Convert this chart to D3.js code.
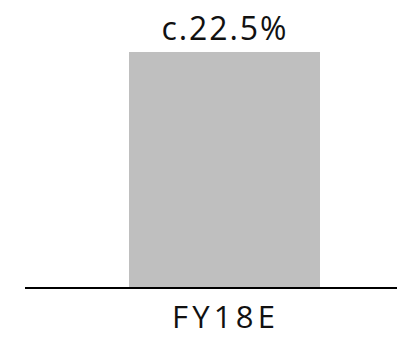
<!DOCTYPE html>
<html><head><meta charset="utf-8">
<script src="https://cdn.jsdelivr.net/npm/d3@7"></script>
<style>html,body{margin:0;padding:0;background:#fff;}svg{display:block;}</style>
</head><body>
<svg id="c" width="397" height="337"></svg>
<script>
const categories = ["FY18E"];
const values = [22.5];
const valueLabels = ["c.22.5%"];

const svg = d3.select("#c");
const baseY = 288;
const x = d3.scaleBand().domain(categories).range([129, 320]).padding(0);
const y = d3.scaleLinear().domain([0, 22.5]).range([baseY, 52]);

svg.selectAll("rect.bar").data(values).join("rect").attr("class","bar")
  .attr("x", (d,i)=>x(categories[i])).attr("width", x.bandwidth())
  .attr("y", d=>y(d)).attr("height", d=>baseY-y(d)).attr("fill","#bfbfbf");

svg.append("line").attr("x1",25).attr("x2",397).attr("y1",baseY).attr("y2",baseY)
  .attr("stroke","#000").attr("stroke-width",2);

const font = "'Open Sans', sans-serif";
svg.selectAll("text.val").data(values).join("text").attr("class","val")
  .attr("x", (d,i)=>x(categories[i]) + x.bandwidth()/2 - 0.5).attr("y", d=>y(d)-12)
  .attr("text-anchor","middle")
  .attr("font-family",font).attr("font-size",32).attr("fill","#111")
  .attr("textLength",125).attr("lengthAdjust","spacing")
  .text((d,i)=>valueLabels[i]);

svg.selectAll("text.cat").data(categories).join("text").attr("class","cat")
  .attr("x", d=>x(d) + x.bandwidth()/2 - 1).attr("y", 328).attr("text-anchor","middle")
  .attr("font-family",font).attr("font-size",31).attr("fill","#111")
  .attr("textLength",103).attr("lengthAdjust","spacing")
  .text(d=>d);
</script>
</body></html>
